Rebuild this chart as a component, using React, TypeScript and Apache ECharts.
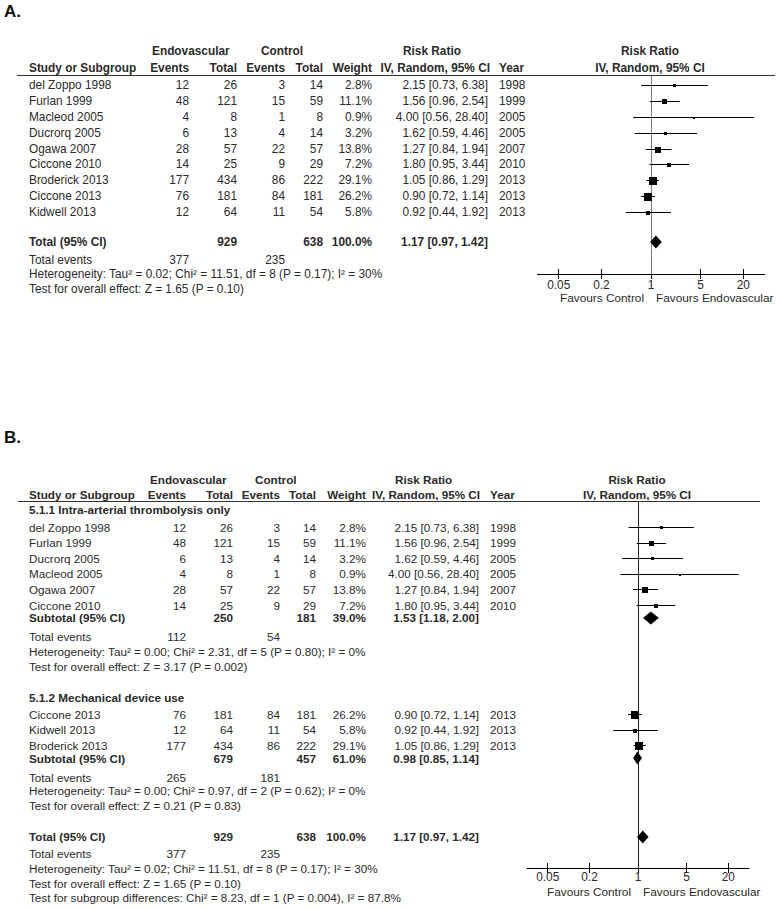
import React, { useEffect, useRef } from "react";
import * as echarts from "echarts";

// ---------------- data ----------------
const studyNames = ["del Zoppo 1998", "Furlan 1999", "Macleod 2005", "Ducrorq 2005", "Ogawa 2007", "Ciccone 2010", "Broderick 2013", "Ciccone 2013", "Kidwell 2013"];
const endoEvents = [12, 48, 4, 6, 28, 14, 177, 76, 12];
const endoTotals = [26, 121, 8, 13, 57, 25, 434, 181, 64];
const ctrlEvents = [3, 15, 1, 4, 22, 9, 86, 84, 11];
const ctrlTotals = [14, 59, 8, 14, 57, 29, 222, 181, 54];
const weights = [2.8, 11.1, 0.9, 3.2, 13.8, 7.2, 29.1, 26.2, 5.8];
const riskRatios = [2.15, 1.56, 4.0, 1.62, 1.27, 1.8, 1.05, 0.9, 0.92];
const ciLower = [0.73, 0.96, 0.56, 0.59, 0.84, 0.95, 0.86, 0.72, 0.44];
const ciUpper = [6.38, 2.54, 28.4, 4.46, 1.94, 3.44, 1.29, 1.14, 1.92];
const studyYears = [1998, 1999, 2005, 2005, 2007, 2010, 2013, 2013, 2013];

const subgroupTitles = ["5.1.1 Intra-arterial thrombolysis only", "5.1.2 Mechanical device use"];
const subgroup1Studies = ["del Zoppo 1998", "Furlan 1999", "Ducrorq 2005", "Macleod 2005", "Ogawa 2007", "Ciccone 2010"];
const subgroup2Studies = ["Ciccone 2013", "Kidwell 2013", "Broderick 2013"];

// [endo total, control total, weight %, RR, CI low, CI high, endo events, control events]
const subgroup1Summary = [250, 181, 39.0, 1.53, 1.18, 2.0, 112, 54];
const subgroup2Summary = [679, 457, 61.0, 0.98, 0.85, 1.14, 265, 181];
const overallSummary = [929, 638, 100.0, 1.17, 0.97, 1.42, 377, 235];

const subgroup1Stats = ["Heterogeneity: Tau² = 0.00; Chi² = 2.31, df = 5 (P = 0.80); I² = 0%", "Test for overall effect: Z = 3.17 (P = 0.002)"];
const subgroup2Stats = ["Heterogeneity: Tau² = 0.00; Chi² = 0.97, df = 2 (P = 0.62); I² = 0%", "Test for overall effect: Z = 0.21 (P = 0.83)"];
const overallStats = ["Heterogeneity: Tau² = 0.02; Chi² = 11.51, df = 8 (P = 0.17); I² = 30%", "Test for overall effect: Z = 1.65 (P = 0.10)"];
const subgroupDifference = "Test for subgroup differences: Chi² = 8.23, df = 1 (P = 0.004), I² = 87.8%";

const tickLabels = [0.05, 0.2, 1, 5, 20];
const headerTop = ["Endovascular", "Control", "Risk Ratio", "Risk Ratio"];
const headerBottom = ["Study or Subgroup", "Events", "Total", "Events", "Total", "Weight", "IV, Random, 95% CI", "Year", "IV, Random, 95% CI"];
const favourLabels = ["Favours Control", "Favours Endovascular"];
const panelTitles = ["A.", "B."];
const summaryLabels = ["Subtotal (95% CI)", "Total (95% CI)", "Total events"];

// ---------------- layout ----------------
const FONT = "Arial, 'Liberation Sans', Helvetica, sans-serif";
const INK = "#2a2a2a";
const LOG_MIN = -1.6;
const LOG_MAX = 1.6;

const LA = {
  fs: 11.85, name: 29, evE: 189, totE: 237, evC: 285, totC: 323, w: 372, rr: 488, year: 499,
  endoHdr: 152, ctrlHdr: 261, rrHdr: 403, rrHdr2: 490, plotHdr: 650,
  h1: 51, h2: 68, rule: 75.5, ruleX1: 17, ruleX2: 775,
  row0: 85, rowH: 15.875, gridLeft: 537.5, gridWidth: 227, gridTop: 76, gridBottom: 274,
  favY: 298, labelMargin: 5, refColor: "#7a7a7a", titleY: 11,
};
const LB = {
  fs: 11.7, name: 29, evE: 186, totE: 233, evC: 280, totC: 316, w: 366, rr: 479, year: 490,
  endoHdr: 150, ctrlHdr: 255, rrHdr: 395, rrHdr2: 480, plotHdr: 637,
  h1: 479, h2: 494, rule: 501.5, ruleX1: 18, ruleX2: 760,
  row0: 527, rowH: 15.6, gridLeft: 527, gridWidth: 222, gridTop: 501, gridBottom: 868,
  favY: 892, labelMargin: 3, refColor: "#1e1e1e", titleY: 437,
};

const fmtRR = (rr: number, lo: number, hi: number) => `${rr.toFixed(2)} [${lo.toFixed(2)}, ${hi.toFixed(2)}]`;

function t(x: number, y: number, text: any, size: number, opts: any = {}) {
  const align = opts.align || "left";
  return {
    type: "text", x, y, silent: true,
    style: {
      text: String(text),
      font: `${opts.bold ? "bold " : ""}${size}px ${FONT}`,
      fill: opts.color || INK,
      align, textAlign: align,
      verticalAlign: "middle", textVerticalAlign: "middle",
    },
  };
}

const rowY = (L: any, r: number) => L.row0 + L.rowH * r;

function addHeader(L: any, title: string, els: any[]) {
  const fs = L.fs;
  els.push(t(4, L.titleY, title, 17, { bold: true, color: "#111" }));
  els.push(t(L.endoHdr, L.h1, headerTop[0], fs, { bold: true }));
  els.push(t(L.ctrlHdr, L.h1, headerTop[1], fs, { bold: true }));
  els.push(t(L.rrHdr, L.h1, headerTop[2], fs, { bold: true }));
  els.push(t(L.plotHdr, L.h1, headerTop[3], fs, { bold: true, align: "center" }));
  const cols = [L.name, L.evE, L.totE, L.evC, L.totC, L.w, L.rrHdr2, L.year, L.plotHdr];
  const aligns = ["left", "right", "right", "right", "right", "right", "right", "left", "center"];
  headerBottom.forEach((h, k) => els.push(t(cols[k], L.h2, h, fs, { bold: true, align: aligns[k] })));
  els.push({ type: "line", silent: true, shape: { x1: L.ruleX1, y1: L.rule, x2: L.ruleX2, y2: L.rule }, style: { stroke: "#333", lineWidth: 1 } });
}

function addStudyRow(L: any, i: number, r: number, els: any[]) {
  const y = rowY(L, r);
  const fs = L.fs;
  els.push(t(L.name, y, studyNames[i], fs));
  els.push(t(L.evE, y, endoEvents[i], fs, { align: "right" }));
  els.push(t(L.totE, y, endoTotals[i], fs, { align: "right" }));
  els.push(t(L.evC, y, ctrlEvents[i], fs, { align: "right" }));
  els.push(t(L.totC, y, ctrlTotals[i], fs, { align: "right" }));
  els.push(t(L.w, y, weights[i].toFixed(1) + "%", fs, { align: "right" }));
  els.push(t(L.rr, y, fmtRR(riskRatios[i], ciLower[i], ciUpper[i]), fs, { align: "right" }));
  els.push(t(L.year, y, studyYears[i], fs));
}

function addSummaryRow(L: any, label: string, s: number[], r: number, els: any[]) {
  const y = rowY(L, r);
  const fs = L.fs;
  els.push(t(L.name, y, label, fs, { bold: true }));
  els.push(t(L.totE, y, s[0], fs, { bold: true, align: "right" }));
  els.push(t(L.totC, y, s[1], fs, { bold: true, align: "right" }));
  els.push(t(L.w, y, s[2].toFixed(1) + "%", fs, { bold: true, align: "right" }));
  els.push(t(L.rr, y, fmtRR(s[3], s[4], s[5]), fs, { bold: true, align: "right" }));
}

function addEventsRow(L: any, s: number[], r: number, els: any[]) {
  const y = rowY(L, r);
  els.push(t(L.name, y, summaryLabels[2], L.fs));
  els.push(t(L.evE, y, s[6], L.fs, { align: "right" }));
  els.push(t(L.evC, y, s[7], L.fs, { align: "right" }));
}

function addPlain(L: any, text: string, r: number, els: any[], bold = false) {
  els.push(t(L.name, rowY(L, r), text, L.fs, { bold }));
}

function addFavours(L: any, els: any[]) {
  const c = L.gridLeft + L.gridWidth / 2;
  els.push(t(c - 7, L.favY, favourLabels[0], 11.8, { align: "right" }));
  els.push(t(c + 5, L.favY, favourLabels[1], 11.8, { align: "left" }));
}

const lg = Math.log10;
const fmtTick = (v: number) => String(Number(Math.pow(10, v).toPrecision(3)));
const tickVals = tickLabels.map((v) => lg(v));

function axisMain(gridIndex: number, L: any) {
  return {
    type: "value", gridIndex, min: LOG_MIN, max: LOG_MAX, position: "bottom",
    axisLine: { show: true, onZero: false, lineStyle: { color: "#000", width: 1 } },
    axisTick: { show: true, inside: false, length: 5, customValues: tickVals, lineStyle: { color: "#000", width: 1 } },
    axisLabel: { show: true, customValues: tickVals, margin: L.labelMargin, formatter: fmtTick, fontFamily: FONT, fontSize: 11.9, color: INK },
    splitLine: { show: false },
  };
}
function axisInner(gridIndex: number) {
  return {
    type: "value", gridIndex, min: LOG_MIN, max: LOG_MAX, position: "bottom", offset: 0,
    axisLine: { show: false, onZero: false },
    axisTick: { show: true, inside: true, length: 5, customValues: tickVals, lineStyle: { color: "#000", width: 1 } },
    axisLabel: { show: false },
    splitLine: { show: false },
  };
}

const renderStudy = (_p: any, api: any) => {
  const c = api.coord([api.value(0), api.value(1)]);
  const a = api.coord([api.value(2), api.value(1)]);
  const b = api.coord([api.value(3), api.value(1)]);
  const yr = Math.round(c[1]);
  const s = Math.max(2, Math.round(1.5 * Math.sqrt(api.value(4))));
  const x0 = Math.round(c[0] - s / 2);
  const y0 = Math.round(yr + 0.5 - s / 2);
  return {
    type: "group",
    children: [
      { type: "line", shape: { x1: a[0], y1: yr + 0.5, x2: b[0], y2: yr + 0.5 }, style: { stroke: "#000", lineWidth: 1 } },
      { type: "rect", shape: { x: x0, y: y0, width: s, height: s }, style: { fill: "#000" } },
    ],
  };
};

const renderDiamond = (_p: any, api: any) => {
  const c = api.coord([api.value(0), api.value(1)]);
  const a = api.coord([api.value(2), api.value(1)]);
  const b = api.coord([api.value(3), api.value(1)]);
  const h = 6.5;
  return {
    type: "polygon",
    shape: { points: [[a[0], c[1]], [c[0], c[1] - h], [b[0], c[1]], [c[0], c[1] + h]] },
    style: { fill: "#000" },
  };
};

const makeRenderRef = (color: string) => (_p: any, api: any) => {
  const p = api.coord([api.value(0), api.value(1)]);
  const q = api.coord([api.value(0), api.value(2)]);
  const x = Math.round(p[0]) + 0.5;
  return { type: "line", shape: { x1: x, y1: p[1], x2: x, y2: q[1] }, style: { stroke: color, lineWidth: 1 } };
};

function buildOption() {
  const els: any[] = [];

  // ----- Panel A -----
  addHeader(LA, panelTitles[0], els);
  const studyA: any[] = [];
  studyNames.forEach((_, i) => {
    addStudyRow(LA, i, i, els);
    studyA.push([lg(riskRatios[i]), i, lg(ciLower[i]), lg(ciUpper[i]), weights[i]]);
  });
  const totalRowA = 9.89;
  addSummaryRow(LA, summaryLabels[1], overallSummary, totalRowA, els);
  addEventsRow(LA, overallSummary, 11.02, els);
  addPlain(LA, overallStats[0], 11.91, els);
  addPlain(LA, overallStats[1], 12.85, els);
  addFavours(LA, els);
  const diamondsA = [[lg(overallSummary[3]), totalRowA, lg(overallSummary[4]), lg(overallSummary[5])]];
  const yMinA = (LA.gridTop - LA.row0) / LA.rowH;
  const yMaxA = (LA.gridBottom - LA.row0) / LA.rowH;

  // ----- Panel B -----
  addHeader(LB, panelTitles[1], els);
  const studyB: any[] = [];
  const diamondsB: any[] = [];
  addPlain(LB, subgroupTitles[0], -1.09, els, true);
  subgroup1Studies.forEach((name, k) => {
    const i = studyNames.indexOf(name);
    addStudyRow(LB, i, k, els);
    studyB.push([lg(riskRatios[i]), k, lg(ciLower[i]), lg(ciUpper[i]), weights[i]]);
  });
  const sub1Row = 5.83;
  addSummaryRow(LB, summaryLabels[0], subgroup1Summary, sub1Row, els);
  diamondsB.push([lg(subgroup1Summary[3]), sub1Row, lg(subgroup1Summary[4]), lg(subgroup1Summary[5])]);
  addEventsRow(LB, subgroup1Summary, 7.0, els);
  addPlain(LB, subgroup1Stats[0], 8.0, els);
  addPlain(LB, subgroup1Stats[1], 8.97, els);

  addPlain(LB, subgroupTitles[1], 10.9, els, true);
  subgroup2Studies.forEach((name, k) => {
    const i = studyNames.indexOf(name);
    const r = 12 + k;
    addStudyRow(LB, i, r, els);
    studyB.push([lg(riskRatios[i]), r, lg(ciLower[i]), lg(ciUpper[i]), weights[i]]);
  });
  const sub2Row = 14.81;
  addSummaryRow(LB, summaryLabels[0], subgroup2Summary, sub2Row, els);
  diamondsB.push([lg(subgroup2Summary[3]), sub2Row, lg(subgroup2Summary[4]), lg(subgroup2Summary[5])]);
  addEventsRow(LB, subgroup2Summary, 16.03, els);
  addPlain(LB, subgroup2Stats[0], 16.92, els);
  addPlain(LB, subgroup2Stats[1], 17.88, els);

  const totalRowB = 19.87;
  addSummaryRow(LB, summaryLabels[1], overallSummary, totalRowB, els);
  diamondsB.push([lg(overallSummary[3]), totalRowB, lg(overallSummary[4]), lg(overallSummary[5])]);
  addEventsRow(LB, overallSummary, 20.96, els);
  addPlain(LB, overallStats[0], 21.92, els);
  addPlain(LB, overallStats[1], 22.88, els);
  addPlain(LB, subgroupDifference, 23.78, els);
  addFavours(LB, els);
  const yMinB = (LB.gridTop - LB.row0) / LB.rowH;
  const yMaxB = (LB.gridBottom - LB.row0) / LB.rowH;

  return {
    animation: false,
    backgroundColor: "#ffffff",
    grid: [
      { left: LA.gridLeft, top: LA.gridTop, width: LA.gridWidth, height: LA.gridBottom - LA.gridTop, containLabel: false },
      { left: LB.gridLeft, top: LB.gridTop, width: LB.gridWidth, height: LB.gridBottom - LB.gridTop, containLabel: false },
    ],
    xAxis: [axisMain(0, LA), axisInner(0), axisMain(1, LB), axisInner(1)],
    yAxis: [
      { type: "value", gridIndex: 0, inverse: true, min: yMinA, max: yMaxA, show: false },
      { type: "value", gridIndex: 1, inverse: true, min: yMinB, max: yMaxB, show: false },
    ],
    series: [
      { type: "custom", xAxisIndex: 0, yAxisIndex: 0, silent: true, clip: false, encode: { x: 0, y: 1 }, renderItem: makeRenderRef(LA.refColor), data: [[0, yMinA, yMaxA]] },
      { type: "custom", xAxisIndex: 0, yAxisIndex: 0, silent: true, clip: false, encode: { x: 0, y: 1 }, renderItem: renderStudy, data: studyA },
      { type: "custom", xAxisIndex: 0, yAxisIndex: 0, silent: true, clip: false, encode: { x: 0, y: 1 }, renderItem: renderDiamond, data: diamondsA },
      { type: "custom", xAxisIndex: 2, yAxisIndex: 1, silent: true, clip: false, encode: { x: 0, y: 1 }, renderItem: makeRenderRef(LB.refColor), data: [[0, yMinB, yMaxB]] },
      { type: "custom", xAxisIndex: 2, yAxisIndex: 1, silent: true, clip: false, encode: { x: 0, y: 1 }, renderItem: renderStudy, data: studyB },
      { type: "custom", xAxisIndex: 2, yAxisIndex: 1, silent: true, clip: false, encode: { x: 0, y: 1 }, renderItem: renderDiamond, data: diamondsB },
    ],
    graphic: { elements: els },
  };
}

export default function App() {
  const ref = useRef<HTMLDivElement>(null);
  useEffect(() => {
    if (!ref.current) return;
    const chart = echarts.init(ref.current, undefined, { renderer: "svg" });
    chart.setOption(buildOption() as any);
    return () => chart.dispose();
  }, []);
  return (
    <div
      ref={ref}
      style={{ position: "absolute", left: 0, top: 0, width: 777, height: 909, background: "#fff" }}
    />
  );
}
